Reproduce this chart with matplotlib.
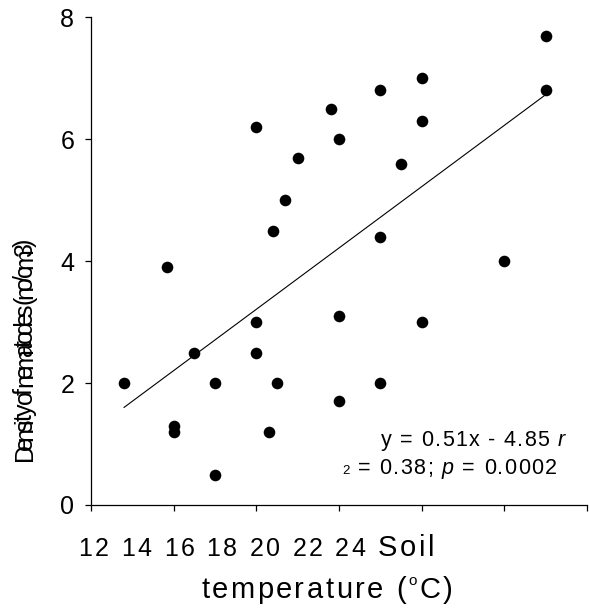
import numpy as np
import matplotlib
matplotlib.use("Agg")
import matplotlib.pyplot as plt
import matplotlib.font_manager as fm
from matplotlib.ft2font import FT2Font

# soil temperature (C) and nematode density
temp = [12.8, 13.85, 14.0, 14.0, 14.5, 15.0, 15.0, 16.0, 16.0, 16.0,
        16.3, 16.4, 16.5, 16.7, 17.0, 17.8, 18.0, 18.0, 18.0, 19.0,
        19.0, 19.0, 19.5, 20.0, 20.0, 20.0, 22.0, 23.0, 23.0]
density = [2.0, 3.9, 1.3, 1.2, 2.5, 2.0, 0.5, 6.2, 3.0, 2.5,
           1.2, 4.5, 2.0, 5.0, 5.7, 6.5, 6.0, 3.1, 1.7, 6.8,
           4.4, 2.0, 5.6, 7.0, 6.3, 3.0, 4.0, 7.7, 6.8]
x_ticks = [12, 14, 16, 18, 20, 22, 24]
y_ticks = [0, 2, 4, 6, 8]

W, H, DPI = 590, 612, 100
FAM = "Liberation Sans"

fig = plt.figure(figsize=(W / DPI, H / DPI), dpi=DPI)
ax = fig.add_axes([91 / W, 1 - 505 / H, (587 - 91) / W, (505 - 17.3) / H])

ax.scatter(temp, density, s=70, c="black", linewidths=0, zorder=3)

# least squares line over the data range
k, b = np.polyfit(temp, density, 1)
xs = np.array([min(temp), max(temp)])
ax.plot(xs, k * xs + b, color="black", lw=0.8)

ax.set_xlim(12, 24)
ax.set_ylim(0, 8)
ax.set_xticks(x_ticks)
ax.set_xticklabels([])
ax.set_yticks(y_ticks)
ax.set_yticklabels([str(v) for v in y_ticks], family=FAM, fontsize=18)
ax.tick_params(axis="both", direction="out", length=4, width=0.9, color="black")
ax.tick_params(axis="y", pad=8)
for s in ["top", "right"]:
    ax.spines[s].set_visible(False)
for s in ["left", "bottom"]:
    ax.spines[s].set_linewidth(0.9)


def char_widths(text, size, style):
    font = FT2Font(fm.findfont(fm.FontProperties(family=FAM, style=style)))
    font.set_size(size, DPI)
    return [font.load_char(ord(c)).linearHoriAdvance / 65536 for c in text]


def spaced(x, y, pieces, extra=0.0, squeeze=1.0, rotation=0):
    # x, y in pixels from the top left corner, at the baseline start
    for text, size, style, rise in pieces:
        for c, adv in zip(text, char_widths(text, size, style)):
            if c != " ":
                if rotation:
                    px, py = x - rise, y
                else:
                    px, py = x, y - rise
                fig.text(px / W, 1 - py / H, c, fontsize=size, style=style,
                         family=FAM, ha="left", va="baseline",
                         rotation=rotation, rotation_mode="anchor")
            step = adv * squeeze + extra
            if rotation:
                y -= step
            else:
                x += step
    return x, y


tick_line = " ".join(str(t) for t in x_ticks) + " "
spaced(78, 556, [(tick_line, 18, "normal", 0), ("Soil", 21, "normal", 0)], extra=2.7)
spaced(201, 598, [("temperature (", 21, "normal", 0), ("o", 11, "normal", 13),
                  ("C)", 21, "normal", 0)], extra=2.5)

spaced(381, 446, [("y = 0.51x - 4.85 ", 15.5, "normal", 0), ("r", 15.5, "italic", 0)],
       extra=1.3)
spaced(342, 474, [("2", 9.5, "normal", 0), (" = 0.38; ", 15.5, "normal", 0),
                  ("p", 15.5, "italic", 0), (" = 0.0002", 15.5, "normal", 0)],
       extra=1.4)

spaced(32, 461, [("Density of nematodes (no/cm3)", 18, "normal", 0)],
       squeeze=0.63, rotation=90)

fig.savefig("out.png", dpi=DPI, facecolor="white")
